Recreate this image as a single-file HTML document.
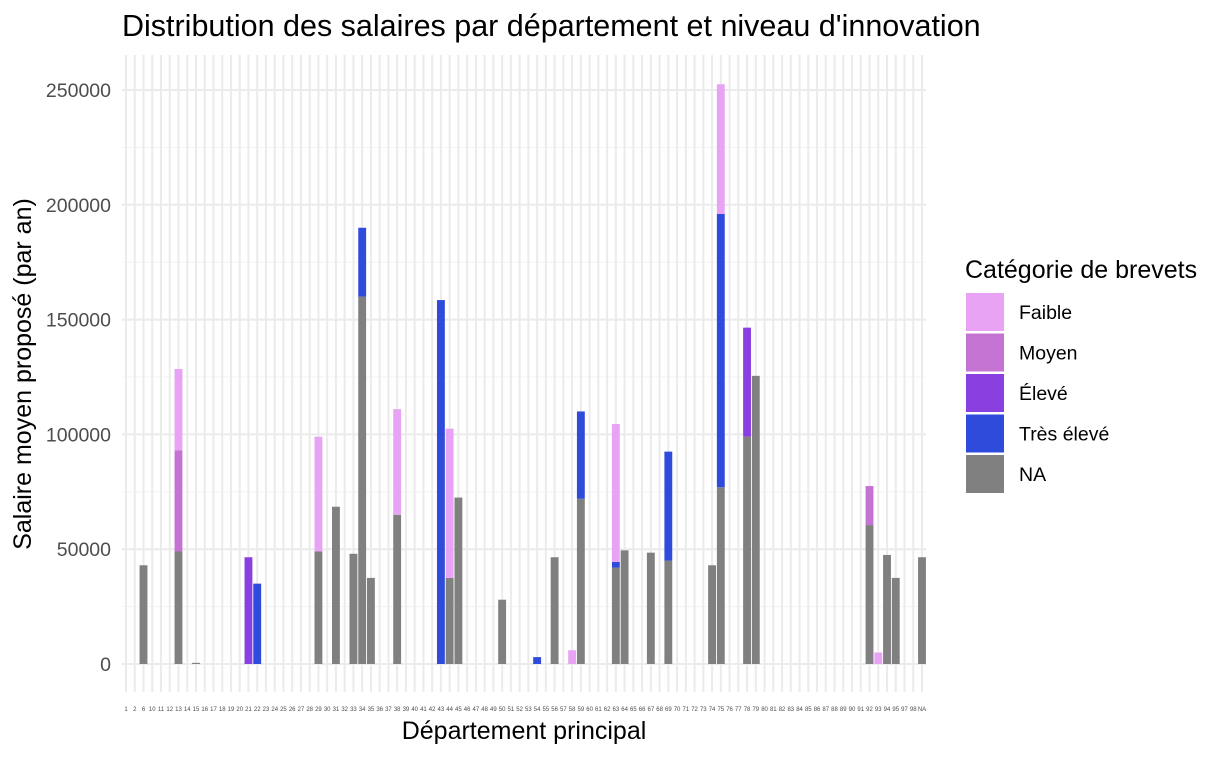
<!DOCTYPE html>
<html><head><meta charset="utf-8"><style>
body{margin:0;background:#fff;font-family:"Liberation Sans",sans-serif;}
</style></head><body>
<svg id="chart" width="1225" height="757" xmlns="http://www.w3.org/2000/svg" font-family="Liberation Sans, sans-serif">
<text x="122" y="36" font-size="30.5" fill="#000">Distribution des salaires par département et niveau d'innovation</text>
<g id="grid"></g><g id="bars"></g><g id="axes"></g>
<text x="524" y="739" font-size="25" text-anchor="middle" fill="#000">Département principal</text>
<text transform="translate(31,374) rotate(-90)" font-size="25" text-anchor="middle" fill="#000">Salaire moyen proposé (par an)</text>
<g id="legend"></g>
</svg>
<script>
const categories = ["1","2","6"];
for (let d = 10; d <= 95; d++) categories.push(String(d));
categories.push("97","98","NA");
const levels = ["Faible","Moyen","Élevé","Très élevé","NA"];
const colors = ["#e8a3f5","#c473d3","#8a40e0","#2f4bdc","#808080"];
// segment values per department
const naVals = {"6":43000,"13":49000,"15":500,"29":49000,"31":68500,"33":48000,"34":160000,"35":37500,"38":65000,"44":37500,"45":72500,"50":28000,"56":46500,"59":72000,"63":42000,"64":49500,"67":48500,"69":45000,"74":43000,"75":77000,"78":99000,"79":125500,"92":60500,"94":47500,"95":37500,"NA":46500};
const tresEleveVals = {"22":35000,"34":30000,"43":158500,"54":3000,"59":38000,"63":2500,"69":47500,"75":119000};
const eleveVals = {"21":46500,"78":47500};
const moyenVals = {"13":44000,"92":17000};
const faibleVals = {"13":35500,"29":50000,"38":46000,"44":65000,"58":6000,"63":60000,"75":56500,"93":5000};
const yTicks = [0,50000,100000,150000,200000,250000];
const yMinor = [25000,75000,125000,175000,225000];

const NS="http://www.w3.org/2000/svg";
const x0=126, x1=922, y0=664, yTop=90;
const step=(x1-x0)/(categories.length-1);
const xPos=i=>x0+i*step;
const yPos=v=>y0-(v/250000)*(y0-yTop);
function mk(tag,attrs,parent){const e=document.createElementNS(NS,tag);for(const k in attrs)e.setAttribute(k,attrs[k]);parent.appendChild(e);return e;}
const grid=document.getElementById('grid');
yMinor.forEach(v=>{const l=mk('line',{x1:122,x2:926,y1:yPos(v),y2:yPos(v),stroke:'#f3f3f3','stroke-width':1},grid);

});
categories.forEach((c,i)=>{const l=mk('line',{x1:xPos(i),x2:xPos(i),y1:55,y2:692,stroke:'#ebebeb','stroke-width':2},grid);

});
const axes=document.getElementById('axes');
yTicks.forEach(v=>{const l=mk('line',{x1:122,x2:926,y1:yPos(v),y2:yPos(v),stroke:'#ebebeb','stroke-width':2},grid);


const t=mk('text',{x:111,y:yPos(v)+7,'font-size':19.5,fill:'#4d4d4d','text-anchor':'end'},axes);


t.textContent=v;});
categories.forEach((c,i)=>{const t=mk('text',{x:xPos(i),y:711,'font-size':6,fill:'#4d4d4d','text-anchor':'middle'},axes);


t.textContent=c;});
const bars=document.getElementById('bars');
const series=[[naVals,4],[tresEleveVals,3],[eleveVals,2],[moyenVals,1],[faibleVals,0]];
const bw=step*0.9;
categories.forEach((c,i)=>{let cum=0;series.forEach(([obj,li])=>{const v=obj[c];if(!v)return;
const r=mk('rect',{x:xPos(i)-bw/2,y:yPos(cum+v),width:bw,height:yPos(cum)-yPos(cum+v),fill:colors[li]},bars);


cum+=v;});});
const lg=document.getElementById('legend');
const lt=mk('text',{x:965,y:278,'font-size':25,fill:'#000'},lg);


lt.textContent='Catégorie de brevets';
levels.forEach((l,k)=>{const y=293+k*40.5;
const r=mk('rect',{x:966,y:y,width:38,height:38,fill:colors[k]},lg);


const t=mk('text',{x:1019,y:y+26,'font-size':19.5,fill:'#000'},lg);


t.textContent=l;});
</script>
</body></html>
